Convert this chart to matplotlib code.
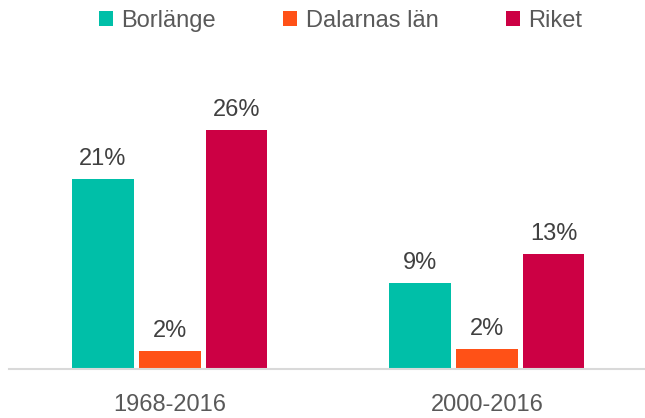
import matplotlib
matplotlib.use('Agg')
import matplotlib.pyplot as plt
from matplotlib.patches import Patch
import numpy as np

plt.rcParams['font.family'] = ['Liberation Sans', 'DejaVu Sans']

periods = ['1968-2016', '2000-2016']
series_names = ['Borlänge', 'Dalarnas län', 'Riket']
borlange = [20.7, 9.4]
dalarna = [1.96, 2.2]
riket = [26.0, 12.5]
value_labels = [['21%', '9%'], ['2%', '2%'], ['26%', '13%']]

COLORS = ['#00BFA8', '#FF5117', '#CC0044']

fig = plt.figure(figsize=(6.45, 4.18), dpi=100)
ax = fig.add_axes([9 / 645, 49 / 418, 636 / 645, 276 / 418])

x = np.arange(len(periods))
offsets = [-0.212, 0.0, 0.21]
bar_width = 0.194
for i, (values, color) in enumerate(zip([borlange, dalarna, riket], COLORS)):
    bars = ax.bar(x + offsets[i], values, width=bar_width, color=color)
    for bar, label in zip(bars, value_labels[i]):
        ax.annotate(label, (bar.get_x() + bar.get_width() / 2, bar.get_height()),
                    xytext=(0, 10), textcoords='offset points',
                    ha='center', va='baseline', fontsize=17, color='#404040')

ax.set_xlim(-0.508, 1.498)
ax.set_ylim(0, 30)
ax.set_xticks(x)
ax.set_xticklabels(periods, fontsize=17, color='#595959')
ax.tick_params(axis='x', length=0, pad=18)
ax.set_yticks([])
for side in ['left', 'right', 'top']:
    ax.spines[side].set_visible(False)
ax.spines['bottom'].set_color('#D9D9D9')
ax.spines['bottom'].set_linewidth(1.5)

handles = [Patch(facecolor=c, edgecolor='none') for c in COLORS]
fig.legend(handles, series_names, loc='center', bbox_to_anchor=(0.528, 1 - 21 / 418),
           ncol=3, frameon=False, fontsize=17, labelcolor='#595959',
           handlelength=0.6, handleheight=0.6, handletextpad=0.35,
           columnspacing=2.85, borderaxespad=0, borderpad=0)

fig.savefig('out.png', dpi=100)
